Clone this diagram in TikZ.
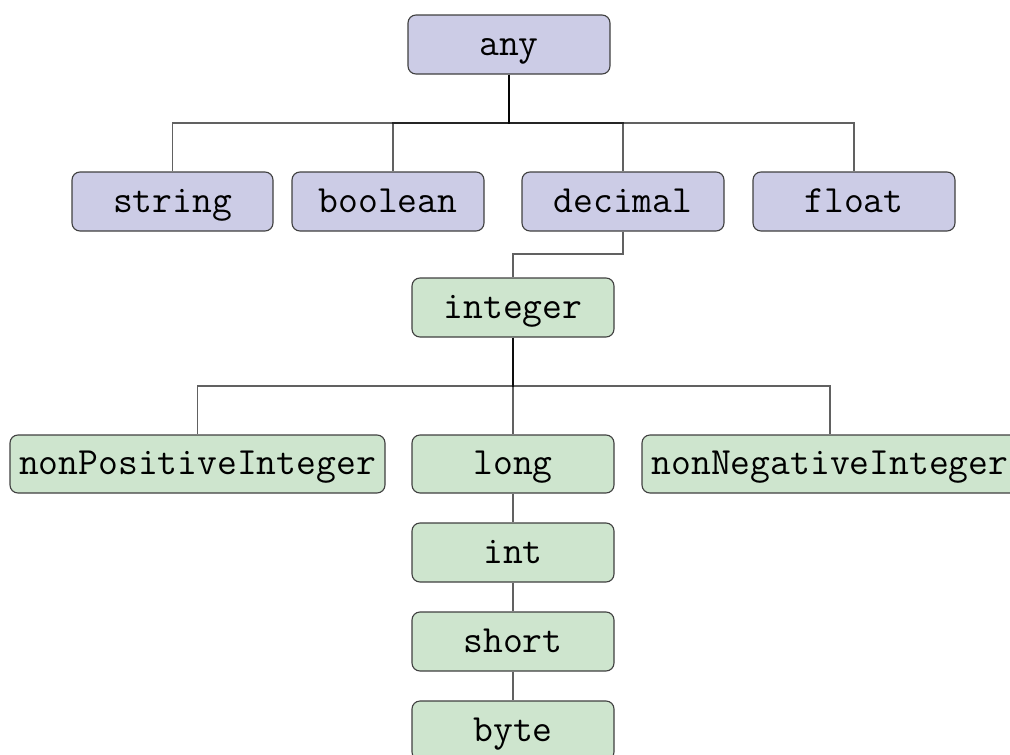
\documentclass[tikz,border=0pt]{standalone}
\usepackage{fontspec}
\definecolor{typeblue}{RGB}{204,204,230}
\definecolor{typegreen}{RGB}{206,229,206}
\definecolor{boxline}{RGB}{64,64,64}
\begin{document}
\begin{tikzpicture}[x=1pt,y=-1pt,
  typebox/.style={draw=boxline, line width=1.1pt, rounded corners=8pt,
    inner sep=0pt, minimum height=59pt, minimum width=202pt,
    text height=26pt, text depth=5pt,
    font=\fontsize{38.5}{42}\selectfont\ttfamily},
  prim/.style={typebox, fill=typeblue},
  derived/.style={typebox, fill=typegreen},
  conn/.style={draw=black, draw opacity=0.62, line width=1.1pt}]
\useasboundingbox (0,0) rectangle (1010,755);

% primitive types
\node[prim] (any)     at (509,44.5)  {any};
\node[prim, minimum width=201pt] (string)  at (172.5,201.5) {string};
\node[prim, minimum width=192pt] (boolean) at (388,201.5)   {boolean};
\node[prim] (decimal) at (623,201.5) {decimal};
\node[prim] (float)   at (854,201.5) {float};

% derived integer types
\node[derived] (integer) at (513,307.5) {integer};
\node[derived, minimum width=375pt, minimum height=58pt] (nonpos) at (197.5,464) {nonPositiveInteger};
\node[derived, minimum height=58pt] (long) at (513,464) {long};
\node[derived, minimum width=376pt, minimum height=58pt] (nonneg) at (830,464) {nonNegativeInteger};
\node[derived] (int)   at (513,552.5) {int};
\node[derived] (short) at (513,641.5) {short};
\node[derived] (byte)  at (513,730.5) {byte};

% bus levels
\coordinate (busA) at (0,123);
\coordinate (busB) at (0,254);
\coordinate (busC) at (0,386);

% connectors
\foreach \c in {string,decimal,float}
  \draw[conn] (any.south) -- (any.south |- busA) -| (\c.north);
\draw[conn] (any.south) -- (any.south |- busA) -| ([xshift=5pt]boolean.north);
\draw[conn] (decimal.south) -- (decimal.south |- busB) -| (integer.north);
\foreach \c in {nonpos,long,nonneg}
  \draw[conn] (integer.south) -- (integer.south |- busC) -| (\c.north);
\draw[conn] (long) -- (int);
\draw[conn] (int) -- (short);
\draw[conn] (short) -- (byte);
\end{tikzpicture}
\end{document}
